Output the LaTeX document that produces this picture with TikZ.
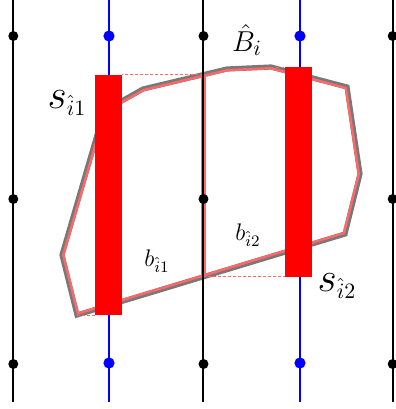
\documentclass[tikz,border=0pt]{standalone}
\usepackage{amsmath}
\usepackage{tikz}
\usetikzlibrary{calc,positioning}
\definecolor{sbred}{RGB}{255,0,0}
\definecolor{sbpink}{RGB}{255,104,104}
\definecolor{sbgray}{RGB}{120,120,120}
\definecolor{sbblue}{RGB}{0,0,255}
\newcommand{\sbsub}[1]{\mbox{\fontsize{10.5}{12}\selectfont$#1$}}
\tikzset{
  sbGrid/.style={draw=black, line width=1pt},
  sbAxis/.style={draw=sbblue, line width=1pt},
  sbDot/.style={circle, fill=#1, inner sep=0pt, minimum size=5pt},
  sbHull/.style={draw=sbgray, line width=2.6pt, line join=miter},
  sbHalf/.style={draw=sbpink, line width=2.4pt, line join=miter},
  sbSlab/.style={fill=sbred},
  sbGuide/.style={draw=sbpink, line width=0.5pt, dash pattern=on 1.5pt off 1pt},
  sbBig/.style={font=\fontsize{21}{24}\selectfont, inner sep=0pt},
  sbMid/.style={font=\fontsize{15}{17}\selectfont, inner sep=0pt},
  sbSmall/.style={font=\fontsize{12}{14}\selectfont, inner sep=0pt}
}

\begin{document}
\begin{tikzpicture}[x=0.5pt, y=-0.5pt]
  \useasboundingbox (0,0) rectangle (396,409);
  % hull corners
  \coordinate (p1) at (77,315);
  \coordinate (p2) at (62,255);
  \coordinate (p3) at (104,111);
  \coordinate (p4) at (143,89);
  \coordinate (p5) at (227,69);
  \coordinate (p6) at (271,67);
  \coordinate (p7) at (347,87);
  \coordinate (p8) at (360,174);
  \coordinate (p9) at (345,234);
  % split points on the middle line
  \coordinate (top) at ($(p4)!0.7202!(p5)$);
  \coordinate (bot) at ($(p1)!0.472!(p9)$);
  % slab edges
  \coordinate (s1l) at (95,0);
  \coordinate (s1r) at (122,0);
  \coordinate (s2l) at (285,0);
  \coordinate (s2r) at (312,0);

  \draw[sbHull] (p1) -- (p2) -- (p3) -- (p4) -- (p5) -- (p6) -- (p7) -- (p8) -- (p9) -- cycle;
  \begin{scope}
    \clip (p1) -- (p2) -- (p3) -- (p4) -- (top) -- (bot) -- cycle;
    \draw[sbHalf] (p1) -- (p2) -- (p3) -- (p4) -- (top) -- (bot) -- cycle;
  \end{scope}
  \begin{scope}
    \clip (top) -- (p5) -- (p6) -- (p7) -- (p8) -- (p9) -- (bot) -- cycle;
    \draw[sbHalf] (top) -- (p5) -- (p6) -- (p7) -- (p8) -- (p9) -- (bot) -- cycle;
  \end{scope}

  \draw[sbGuide] (top) -- (s1r |- top);
  \draw[sbGuide] (p1) -- (s1l |- p1);
  \draw[sbGuide] (p6) -- (s2l |- p6);
  \draw[sbGuide] (bot) -- (s2l |- bot);

  % grid columns
  \foreach \x/\n in {13.3/a, 203.5/b, 392.7/c} {
    \draw[sbGrid] (\x,0) -- (\x,402);
    \foreach \y/\m in {36/1, 199/2, 364/3}
      \node[sbDot=black] (d\n\m) at (\x,\y) {};
  }
  \foreach \x/\n in {109/a, 300/b} {
    \draw[sbAxis] (\x,0) -- (\x,402);
    \foreach \y/\m in {36/1, 199/2, 363/3}
      \node[sbDot=sbblue, minimum size=5.6pt] (e\n\m) at (\x,\y) {};
  }

  \fill[sbSlab] (s1l |- top) rectangle (s1r |- p1);
  \fill[sbSlab] (s2l |- p6) rectangle (s2r |- bot);

  \node[sbBig] (lblsa) at (67,103) {$s_{\sbsub{\hat{i}1}}$};
  \node[sbBig] (lblsb) at (337,286) {$s_{\sbsub{\hat{i}2}}$};
  \node[sbMid] (lblB) at (247,40) {$\hat{B}_i$};
  \node[sbSmall] (lblba) at (157,261) {$b_{\hat{i}1}$};
  \node[sbSmall] (lblbb) at (248,235) {$b_{\hat{i}2}$};
\end{tikzpicture}
\end{document}
